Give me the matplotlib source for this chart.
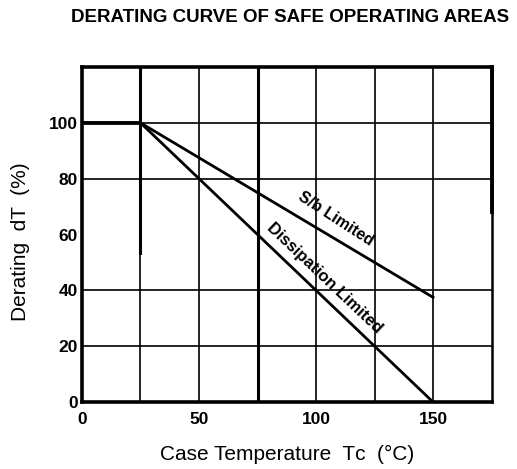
import matplotlib
matplotlib.use("Agg")
import matplotlib.pyplot as plt

# Data
case_temp = [0, 25, 150]
sb_limited = [100, 100, 37.5]
dissipation_limited = [100, 100, 0]
x_ticks = [0, 50, 100, 150]
y_ticks = [0, 20, 40, 60, 80, 100]
x_grid = [25, 50, 75, 100, 125, 150]
y_grid = [20, 40, 80, 100]

plt.rcParams['font.family'] = ['Liberation Sans', 'DejaVu Sans']

fig = plt.figure(figsize=(5.17, 4.69), dpi=100)
ax = fig.add_axes([0.1586, 0.1429, 0.7921, 0.7142])
ax.set_xlim(0, 175)
ax.set_ylim(0, 120)

# grid
for gx in x_grid:
    lw = 2.2 if gx == 75 else 1.2
    ax.axvline(gx, color='black', lw=lw, zorder=1)
# thick upper part of the 25 line
ax.plot([25, 25], [53.5, 120], color='black', lw=2.2, zorder=1)
for gy in y_grid:
    ax.axhline(gy, color='black', lw=1.2, zorder=1)

# curves
ax.plot(case_temp, sb_limited, color='black', lw=2.0, zorder=3)
ax.plot(case_temp, dissipation_limited, color='black', lw=2.0, zorder=3)
ax.plot(case_temp[:2], sb_limited[:2], color='black', lw=2.6, zorder=3)

ax.text(108.5, 65.7, 'S/b Limited', rotation=-33, ha='center', va='center',
        fontsize=11.5, fontweight='bold', zorder=4)
ax.text(103.8, 44.3, 'Dissipation Limited', rotation=-43.5, ha='center', va='center',
        fontsize=12, fontweight='bold', zorder=4)

for side in ['left', 'bottom', 'top']:
    ax.spines[side].set_linewidth(2.6)
ax.spines['right'].set_linewidth(1.8)
# thicker upper part of the right border
ax.plot([175, 175], [68, 120], color='black', lw=2.8, zorder=5, clip_on=False)

ax.set_xticks(x_ticks)
ax.set_yticks(y_ticks)
ax.tick_params(length=0, labelsize=12.5)
ax.tick_params(axis='x', pad=7)
ax.tick_params(axis='y', pad=3)
for lab in ax.get_xticklabels() + ax.get_yticklabels():
    lab.set_fontweight('bold')

ax.set_xlabel('Case Temperature  T\u1d04  (\u00b0C)', fontsize=15, labelpad=13)
ax.set_ylabel('Derating  dT  (%)', fontsize=15)
ax.yaxis.set_label_coords(-0.127, 0.48)

fig.text(0.561, 0.962, 'DERATING CURVE OF SAFE OPERATING AREAS', ha='center', va='center',
         fontsize=13.5, fontweight='bold')

fig.savefig('out.png', dpi=100)
